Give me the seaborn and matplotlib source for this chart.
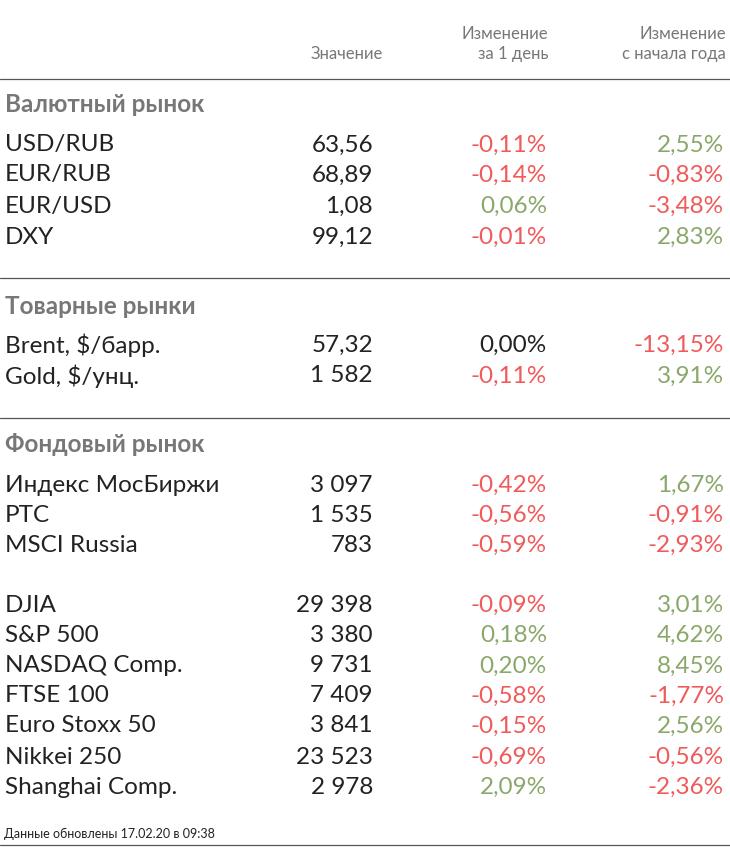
import matplotlib
matplotlib.use("Agg")
import matplotlib.pyplot as plt
import seaborn as sns

sns.set_theme(style="white")
plt.rcParams['font.family'] = ['Lato', 'DejaVu Sans']

sections = ["Валютный рынок", "Товарные рынки", "Фондовый рынок"]
section_y = [105, 306, 444]
rule_y = [79, 278, 418]

names = ["USD/RUB", "EUR/RUB", "EUR/USD", "DXY",
         "Brent, $/барр.", "Gold, $/унц.",
         "Индекс МосБиржи", "РТС", "MSCI Russia",
         "DJIA", "S&P 500", "NASDAQ Comp.", "FTSE 100", "Euro Stoxx 50", "Nikkei 250", "Shanghai Comp."]
values = ["63,56", "68,89", "1,08", "99,12",
          "57,32", "1 582",
          "3 097", "1 535", "783",
          "29 398", "3 380", "9 731", "7 409", "3 841", "23 523", "2 978"]
day_chg = [-0.11, -0.14, 0.06, -0.01,
           0.00, -0.11,
           -0.42, -0.56, -0.59,
           -0.09, 0.18, 0.20, -0.58, -0.15, -0.69, 2.09]
ytd_chg = [2.55, -0.83, -3.48, 2.83,
           -13.15, 3.91,
           1.67, -0.91, -2.93,
           3.01, 4.62, 8.45, -1.77, 2.56, -0.56, -2.36]
row_y = [145, 175, 206, 237, 345, 376, 485, 515, 545,
         605, 635, 666, 696, 726, 757, 787]

RED, GREEN, DARK = "#f05a5a", "#8aa86a", "#222222"

def fmt(v):
    return f"{v:.2f}".replace(".", ",") + "%"

def col(v):
    return RED if v < 0 else (GREEN if v > 0 else DARK)

fig = plt.figure(figsize=(7.3, 8.47), dpi=100)
ax = fig.add_axes([0, 0, 1, 1])
ax.set_xlim(0, 730)
ax.set_ylim(847, 0)
ax.axis("off")

hc = "#777777"
hs = 12
ax.text(383, 54, "Значение", ha="right", va="center", fontsize=hs, color=hc)
ax.text(548, 34, "Изменение", ha="right", va="center", fontsize=hs, color=hc)
ax.text(548, 54, "за 1 день", ha="right", va="center", fontsize=hs, color=hc)
ax.text(726, 34, "Изменение", ha="right", va="center", fontsize=hs, color=hc)
ax.text(726, 54, "с начала года", ha="right", va="center", fontsize=hs, color=hc)

for y in rule_y:
    ax.plot([0, 730], [y, y], color="#555555", lw=0.9)
ax.plot([0, 730], [845, 845], color="#555555", lw=0.9)

for s, y in zip(sections, section_y):
    ax.text(5, y, s, ha="left", va="center", fontsize=17.5, fontweight="bold", color="#777777")

fs = 17.5
for n, v, d, t, y in zip(names, values, day_chg, ytd_chg, row_y):
    ax.text(5, y, n, ha="left", va="center", fontsize=fs, color=DARK)
    ax.text(373, y, v, ha="right", va="center", fontsize=fs, color=DARK)
    ax.text(547, y, fmt(d), ha="right", va="center", fontsize=fs, color=col(d))
    ax.text(724, y, fmt(t), ha="right", va="center", fontsize=fs, color=col(t))

ax.text(4, 834, "Данные обновлены 17.02.20 в 09:38", ha="left", va="center", fontsize=9, color=DARK)

fig.savefig("out.png", dpi=100)
